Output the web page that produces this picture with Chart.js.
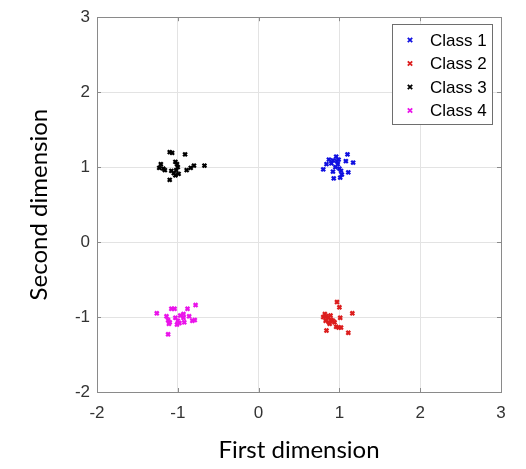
<!DOCTYPE html>
<html>
<head>
<meta charset="utf-8">
<script src="https://cdn.jsdelivr.net/npm/chart.js@4.4.1/dist/chart.umd.min.js"></script>
<style>
html,body{margin:0;padding:0;background:#fff;}
#wrap{width:526px;height:469px;}
</style>
</head>
<body>
<div id="wrap"><canvas id="c" width="526" height="469"></canvas></div>
<script>
// ---- data ----
const classNames = ["Class 1", "Class 2", "Class 3", "Class 4"];
const classColors = ["#1010e0", "#dc1e1e", "#000000", "#ea14ea"];
const xTickValues = [-2, -1, 0, 1, 2, 3];
const yTickValues = [-2, -1, 0, 1, 2, 3];
const xLabel = "First dimension";
const yLabel = "Second dimension";

const class1X = [1.10, 1.17, 1.08, 0.96, 0.92, 0.87, 0.90, 0.80, 0.92, 0.95, 0.98, 1.00, 1.02, 1.03, 1.11, 0.93, 1.01, 0.97, 0.84, 0.99];
const class1Y = [1.17, 1.06, 1.08, 1.14, 1.09, 1.10, 1.05, 0.97, 0.94, 1.00, 1.04, 0.98, 0.95, 0.90, 0.93, 0.85, 0.86, 1.08, 1.04, 1.10];

const class2X = [0.97, 1.00, 1.16, 0.82, 0.80, 0.84, 0.86, 0.89, 0.90, 0.92, 0.87, 0.83, 1.01, 0.96, 0.99, 1.02, 0.84, 1.11, 0.94, 0.88];
const class2Y = [-0.80, -0.87, -0.95, -0.96, -1.00, -0.99, -1.01, -0.98, -1.04, -1.05, -1.07, -1.05, -1.01, -1.13, -1.14, -1.14, -1.18, -1.21, -1.07, -1.09];

const class3X = [-1.10, -1.07, -0.91, -1.21, -1.23, -1.18, -1.16, -1.03, -1.01, -1.00, -1.02, -1.05, -1.08, -0.99, -1.03, -0.89, -0.84, -0.80, -0.67, -1.10];
const class3Y = [1.20, 1.19, 1.17, 1.04, 0.99, 0.98, 0.96, 1.07, 1.04, 1.00, 0.96, 0.92, 0.95, 0.91, 0.89, 0.96, 0.99, 1.02, 1.02, 0.83];

const class4X = [-1.26, -1.08, -1.04, -0.88, -0.78, -1.14, -1.12, -1.10, -1.11, -1.03, -1.00, -0.97, -0.93, -0.93, -0.92, -0.86, -0.82, -0.79, -1.01, -1.12, -0.98];
const class4Y = [-0.95, -0.89, -0.89, -0.89, -0.84, -0.99, -1.04, -1.07, -1.09, -1.01, -1.05, -0.98, -0.96, -1.01, -1.07, -0.99, -1.05, -1.04, -1.10, -1.23, -1.08];

const seriesX = [class1X, class2X, class3X, class4X];
const seriesY = [class1Y, class2Y, class3Y, class4Y];

// ---- build datasets ----
const datasets = classNames.map((name, i) => ({
  label: name,
  data: seriesX[i].map((x, j) => ({x: x, y: seriesY[i][j]})),
  pointStyle: 'crossRot',
  pointRadius: 2.7,
  pointHoverRadius: 2.7,
  borderWidth: 2.3,
  borderColor: classColors[i],
  backgroundColor: classColors[i]
}));

const TICK_FONT = {family: "'Liberation Sans', Arial, sans-serif", size: 17};
const TITLE_FONT = {family: "Lato, 'Open Sans', sans-serif", size: 24};

const bgPlugin = {
  id: 'bg',
  beforeDraw(chart) {
    const ctx = chart.ctx;
    ctx.save();
    ctx.fillStyle = '#fff';
    ctx.fillRect(0, 0, chart.width, chart.height);
    ctx.restore();
  }
};

const boxPlugin = {
  id: 'box',
  afterDatasetsDraw(chart) {
    const {ctx, chartArea: a, scales} = chart;
    ctx.save();
    ctx.strokeStyle = '#8a8a8a';
    ctx.lineWidth = 1;
    ctx.strokeRect(Math.round(a.left) + 0.5, Math.round(a.top) + 0.5,
                   Math.round(a.right - a.left), Math.round(a.bottom - a.top));
    const tl = 4;
    ctx.beginPath();
    xTickValues.forEach(v => {
      const px = Math.round(scales.x.getPixelForValue(v)) + 0.5;
      ctx.moveTo(px, a.bottom); ctx.lineTo(px, a.bottom - tl);
      ctx.moveTo(px, a.top); ctx.lineTo(px, a.top + tl);
    });
    yTickValues.forEach(v => {
      const py = Math.round(scales.y.getPixelForValue(v)) + 0.5;
      ctx.moveTo(a.left, py); ctx.lineTo(a.left + tl, py);
      ctx.moveTo(a.right, py); ctx.lineTo(a.right - tl, py);
    });
    ctx.stroke();
    ctx.restore();
  }
};

const legendPlugin = {
  id: 'boxLegend',
  afterDraw(chart) {
    const ctx = chart.ctx;
    const left = 392.5, top = 24.5, w = 100, h = 100;
    const rowH = 23.5, firstY = 40;
    ctx.save();
    ctx.fillStyle = '#fff';
    ctx.fillRect(left, top, w, h);
    ctx.strokeStyle = '#6e6e6e';
    ctx.lineWidth = 1;
    ctx.strokeRect(left, top, w, h);
    ctx.font = "17px 'Liberation Sans', Arial, sans-serif";
    ctx.textBaseline = 'middle';
    ctx.textAlign = 'left';
    chart.data.datasets.forEach((ds, i) => {
      const cy = firstY + i * rowH;
      const cx = 410;
      const r = 2.2;
      ctx.strokeStyle = ds.borderColor;
      ctx.lineWidth = 1.8;
      ctx.beginPath();
      ctx.moveTo(cx - r, cy - r); ctx.lineTo(cx + r, cy + r);
      ctx.moveTo(cx - r, cy + r); ctx.lineTo(cx + r, cy - r);
      ctx.stroke();
      ctx.fillStyle = '#000';
      ctx.fillText(ds.label, 430, cy + 1);
    });
    ctx.restore();
  }
};

new Chart(document.getElementById('c'), {
  type: 'scatter',
  data: {datasets: datasets},
  options: {
    responsive: false,
    devicePixelRatio: 1,
    animation: false,
    layout: {padding: {left: 0, top: 17, right: 25, bottom: 0}},
    plugins: {
      legend: {display: false},
      tooltip: {enabled: false}
    },
    scales: {
      x: {
        type: 'linear',
        min: xTickValues[0],
        max: xTickValues[xTickValues.length - 1],
        afterBuildTicks: s => { s.ticks = xTickValues.map(v => ({value: v})); },
        afterFit: s => { s.height = 77; },
        ticks: {font: TICK_FONT, color: '#333333', padding: 11},
        grid: {color: '#e3e3e3', drawTicks: false, lineWidth: 1},
        border: {display: false},
        title: {display: true, text: xLabel, font: TITLE_FONT, color: '#000', padding: {top: 0, bottom: 4}}
      },
      y: {
        type: 'linear',
        min: yTickValues[0],
        max: yTickValues[yTickValues.length - 1],
        afterBuildTicks: s => { s.ticks = yTickValues.map(v => ({value: v})); },
        afterFit: s => { s.width = 97; },
        ticks: {font: TICK_FONT, color: '#333333', padding: 7},
        grid: {color: '#e3e3e3', drawTicks: false, lineWidth: 1},
        border: {display: false},
        title: {display: true, text: yLabel, font: TITLE_FONT, color: '#000', padding: {top: 25, bottom: 0}}
      }
    }
  },
  plugins: [bgPlugin, boxPlugin, legendPlugin]
});
</script>
</body>
</html>
